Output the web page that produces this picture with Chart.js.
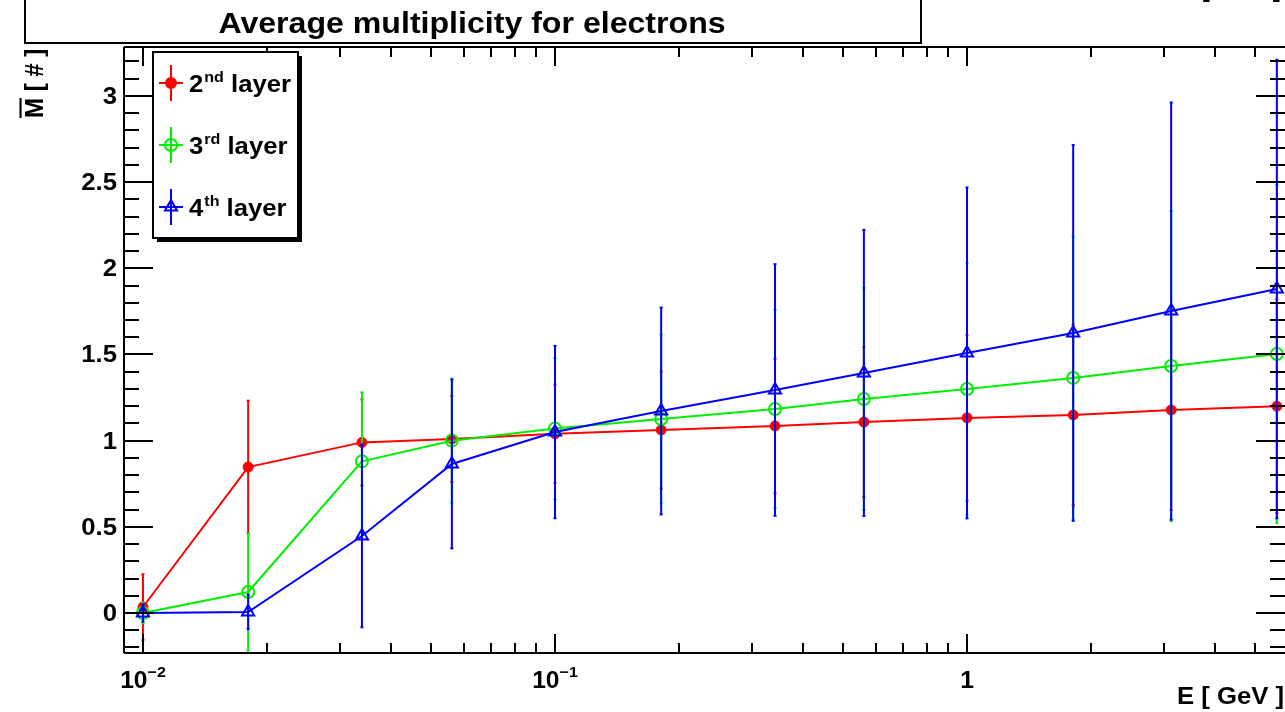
<!DOCTYPE html>
<html>
<head>
<meta charset="utf-8">
<script src="https://cdn.jsdelivr.net/npm/chart.js@4.4.1/dist/chart.umd.min.js"></script>
<style>
    html, body { margin: 0; padding: 0; background: #fff; }
    #contenedor { width: 1285px; height: 712px; position: relative; }
</style>
</head>
<body>
<div id="contenedor"><canvas id="multiplicidad" width="1285" height="712"></canvas></div>
<script>
// datos
const energias = [0.01, 0.018, 0.034, 0.0562, 0.1, 0.181, 0.342, 0.562, 1.0, 1.81, 3.13, 5.65];

const capa2 = [0.035, 0.847, 0.99, 1.01, 1.04, 1.062, 1.085, 1.108, 1.132, 1.149, 1.178, 1.2];
const capa2Err = [0.19, 0.385, 0.25, 0.25, 0.285, 0.34, 0.39, 0.435, 0.48, 0.525, 0.58, 0.62];

const capa3 = [0.0, 0.122, 0.88, 1.0, 1.07, 1.126, 1.184, 1.242, 1.30, 1.364, 1.433, 1.503];
const capa3Err = [0.06, 0.34, 0.40, 0.36, 0.41, 0.49, 0.575, 0.645, 0.73, 0.82, 0.9, 0.98];

const capa4 = [0.0, 0.006, 0.447, 0.865, 1.05, 1.172, 1.294, 1.393, 1.509, 1.625, 1.752, 1.88];
const capa4Err = [0.05, 0.1, 0.53, 0.49, 0.5, 0.6, 0.73, 0.83, 0.96, 1.09, 1.21, 1.33];

const etiquetasY = ['0', '0.5', '1', '1.5', '2', '2.5', '3'];
const valoresY = [0, 0.5, 1, 1.5, 2, 2.5, 3];
const decadasX = [0.01, 0.1, 1];
const etiquetasX = [['10', '\u22122'], ['10', '\u22121'], ['1', '']];

const titulo = 'Average multiplicity for electrons';
const fuente = '"Liberation Sans", Arial, Helvetica, sans-serif';
const ESTIRA = 1.07; // el texto de la imagen original esta algo ensanchado

const aPuntos = (ys) => energias.map((e, i) => ({ x: e, y: ys[i] }));

// texto ensanchado horizontalmente
function texto(ctx, txt, x, y, tam, align) {
    ctx.save();
    ctx.font = 'bold ' + tam + 'px ' + fuente;
    ctx.translate(x, y);
    ctx.scale(ESTIRA, 1);
    ctx.textAlign = align || 'left';
    ctx.fillText(txt, 0, 0);
    ctx.restore();
}

function ancho(ctx, txt, tam) {
    ctx.save();
    ctx.font = 'bold ' + tam + 'px ' + fuente;
    const w = ctx.measureText(txt).width * ESTIRA;
    ctx.restore();
    return w;
}

// barras de error, dibujadas antes de cada serie
const barrasError = {
    id: 'barrasError',
    beforeDatasetDraw(chart, args) {
        const ds = chart.data.datasets[args.index];
        const escalaY = chart.scales.y;
        const area = chart.chartArea;
        const ctx = chart.ctx;
        ctx.save();
        ctx.beginPath();
        ctx.rect(area.left, area.top, area.right - area.left, area.bottom - area.top);
        ctx.clip();
        ctx.strokeStyle = ds.borderColor;
        ctx.fillStyle = ds.borderColor;
        ctx.lineWidth = 2;
        args.meta.data.forEach((pt, i) => {
            const v = ds.data[i].y;
            const e = ds.errores[i];
            const arriba = escalaY.getPixelForValue(v + e);
            const abajo = escalaY.getPixelForValue(v - e);
            ctx.beginPath();
            ctx.moveTo(pt.x, arriba);
            ctx.lineTo(pt.x, abajo);
            ctx.stroke();
            ctx.fillRect(pt.x - 1.5, arriba - 1, 3, 2);
            ctx.fillRect(pt.x - 1.5, abajo - 1, 3, 2);
        });
        ctx.restore();
    }
};

// ejes estilo ROOT, titulo y leyenda
const marcoRoot = {
    id: 'marcoRoot',
    afterDraw(chart) {
        const ctx = chart.ctx;
        const a = chart.chartArea;
        const ex = chart.scales.x;
        const ey = chart.scales.y;
        ctx.save();
        ctx.strokeStyle = '#000';
        ctx.fillStyle = '#000';
        ctx.lineWidth = 2;
        ctx.textBaseline = 'alphabetic';

        // marco
        ctx.beginPath();
        ctx.moveTo(a.left, a.top);
        ctx.lineTo(a.right + 1, a.top);
        ctx.moveTo(a.left, a.bottom);
        ctx.lineTo(a.right + 1, a.bottom);
        ctx.moveTo(a.left, a.top);
        ctx.lineTo(a.left, a.bottom);
        ctx.moveTo(a.right + 1, a.top);
        ctx.lineTo(a.right + 1, a.bottom);
        ctx.stroke();

        // marcas eje y
        ctx.beginPath();
        for (let k = -2; k <= 32; k++) {
            const py = Math.round(ey.getPixelForValue(k / 10));
            if (py < a.top || py > a.bottom) continue;
            const largo = k % 5 === 0 ? 29 : 15;
            ctx.moveTo(a.left, py);
            ctx.lineTo(a.left + largo, py);
            ctx.moveTo(a.right, py);
            ctx.lineTo(a.right - largo, py);
        }
        // marcas eje x (log)
        for (let d = -3; d <= 0; d++) {
            for (let m = 1; m <= 9; m++) {
                const v = m * Math.pow(10, d);
                const px = Math.round(ex.getPixelForValue(v));
                if (px < a.left || px > a.right) continue;
                const largo = m === 1 ? 19 : 10;
                ctx.moveTo(px, a.bottom);
                ctx.lineTo(px, a.bottom - largo);
                ctx.moveTo(px, a.top);
                ctx.lineTo(px, a.top + largo);
            }
        }
        ctx.stroke();

        // etiquetas eje y
        valoresY.forEach((v, i) => {
            texto(ctx, etiquetasY[i], 117, ey.getPixelForValue(v) + 8, 24, 'right');
        });

        // etiquetas eje x
        decadasX.forEach((v, i) => {
            const [base, exp] = etiquetasX[i];
            const px = ex.getPixelForValue(v);
            const wb = ancho(ctx, base, 23);
            const we = exp ? ancho(ctx, exp, 15) : 0;
            const x0 = px - (wb + we) / 2;
            texto(ctx, base, x0, 688, 23);
            if (exp) texto(ctx, exp, x0 + wb, 677, 15);
        });

        // titulo eje x
        texto(ctx, 'E [ GeV ]', 1284, 704, 24, 'right');
        // texto cortado arriba a la derecha
        texto(ctx, '[ GeV ]', 1281, -3, 23, 'right');

        // titulo eje y
        ctx.save();
        ctx.translate(43, 118);
        ctx.rotate(-Math.PI / 2);
        ctx.scale(1, ESTIRA);
        ctx.textAlign = 'left';
        ctx.font = 'bold 24px ' + fuente;
        ctx.fillText('M', 0, 0);
        const wm = ctx.measureText('M').width;
        ctx.fillText(' [ # ]', wm, 0);
        ctx.beginPath();
        ctx.moveTo(0, -21);
        ctx.lineTo(wm, -21);
        ctx.stroke();
        ctx.restore();

        // caja del titulo
        ctx.beginPath();
        ctx.moveTo(25, -2);
        ctx.lineTo(25, 43);
        ctx.lineTo(921, 43);
        ctx.lineTo(921, -2);
        ctx.stroke();
        texto(ctx, titulo, 472, 33, 30, 'center');

        // leyenda
        const lx = 153, ly = 52, lw = 145, lh = 186;
        ctx.fillRect(lx + 4, ly + 4, lw, lh);
        ctx.fillStyle = '#fff';
        ctx.fillRect(lx, ly, lw, lh);
        ctx.strokeRect(lx, ly, lw, lh);

        const filas = [83, 145, 207];
        const ordenLeyenda = [2, 1, 0];
        ordenLeyenda.forEach((idx, f) => {
            const ds = chart.data.datasets[idx];
            const yy = filas[f];
            const mx = 171;
            ctx.strokeStyle = ds.borderColor;
            ctx.lineWidth = 2;
            ctx.beginPath();
            ctx.moveTo(mx, yy - 18);
            ctx.lineTo(mx, yy + 18);
            ctx.moveTo(mx - 12, yy);
            ctx.lineTo(mx + 12, yy);
            ctx.stroke();
            ctx.fillStyle = ds.pointBackgroundColor;
            ctx.strokeStyle = ds.pointBorderColor;
            Chart.helpers.drawPoint(ctx, {
                pointStyle: ds.pointStyle,
                radius: ds.pointRadius,
                rotation: 0,
                borderWidth: ds.pointBorderWidth
            }, mx, yy);

            ctx.fillStyle = '#000';
            const [num, sup, resto] = ds.partesLeyenda;
            texto(ctx, num, 189, yy + 9, 24);
            const wn = ancho(ctx, num, 24);
            texto(ctx, sup, 189 + wn + 1, yy - 1, 15);
            const ws = ancho(ctx, sup, 15);
            texto(ctx, resto, 189 + wn + ws + 1, yy + 9, 24);
        });

        ctx.restore();
    }
};

const ctx = document.getElementById('multiplicidad').getContext('2d');

new Chart(ctx, {
    type: 'line',
    data: {
        datasets: [
            {
                label: '4th layer',
                partesLeyenda: ['4', 'th', ' layer'],
                data: aPuntos(capa4),
                errores: capa4Err,
                borderColor: '#0000ff',
                borderWidth: 2,
                pointStyle: 'triangle',
                pointRadius: 7,
                pointBorderWidth: 2,
                pointBackgroundColor: 'rgba(255,255,255,0)',
                pointBorderColor: '#0000ff',
                order: 1
            },
            {
                label: '3rd layer',
                partesLeyenda: ['3', 'rd', ' layer'],
                data: aPuntos(capa3),
                errores: capa3Err,
                borderColor: '#00ee00',
                borderWidth: 2,
                pointStyle: 'circle',
                pointRadius: 6,
                pointBorderWidth: 2,
                pointBackgroundColor: 'rgba(255,255,255,0)',
                pointBorderColor: '#00ee00',
                order: 2
            },
            {
                label: '2nd layer',
                partesLeyenda: ['2', 'nd', ' layer'],
                data: aPuntos(capa2),
                errores: capa2Err,
                borderColor: '#ff0000',
                borderWidth: 2,
                pointStyle: 'circle',
                pointRadius: 5,
                pointBorderWidth: 1,
                pointBackgroundColor: '#ff0000',
                pointBorderColor: '#ff0000',
                order: 3
            }
        ]
    },
    options: {
        responsive: false,
        animation: false,
        layout: {
            autoPadding: false,
            padding: { left: 124, top: 47, right: 0, bottom: 59 }
        },
        scales: {
            x: {
                type: 'logarithmic',
                display: false,
                min: 0.008994,
                max: 5.913
            },
            y: {
                type: 'linear',
                display: false,
                min: -0.232,
                max: 3.284
            }
        },
        plugins: {
            legend: { display: false },
            tooltip: { enabled: false }
        }
    },
    plugins: [barrasError, marcoRoot]
});
</script>
</body>
</html>
